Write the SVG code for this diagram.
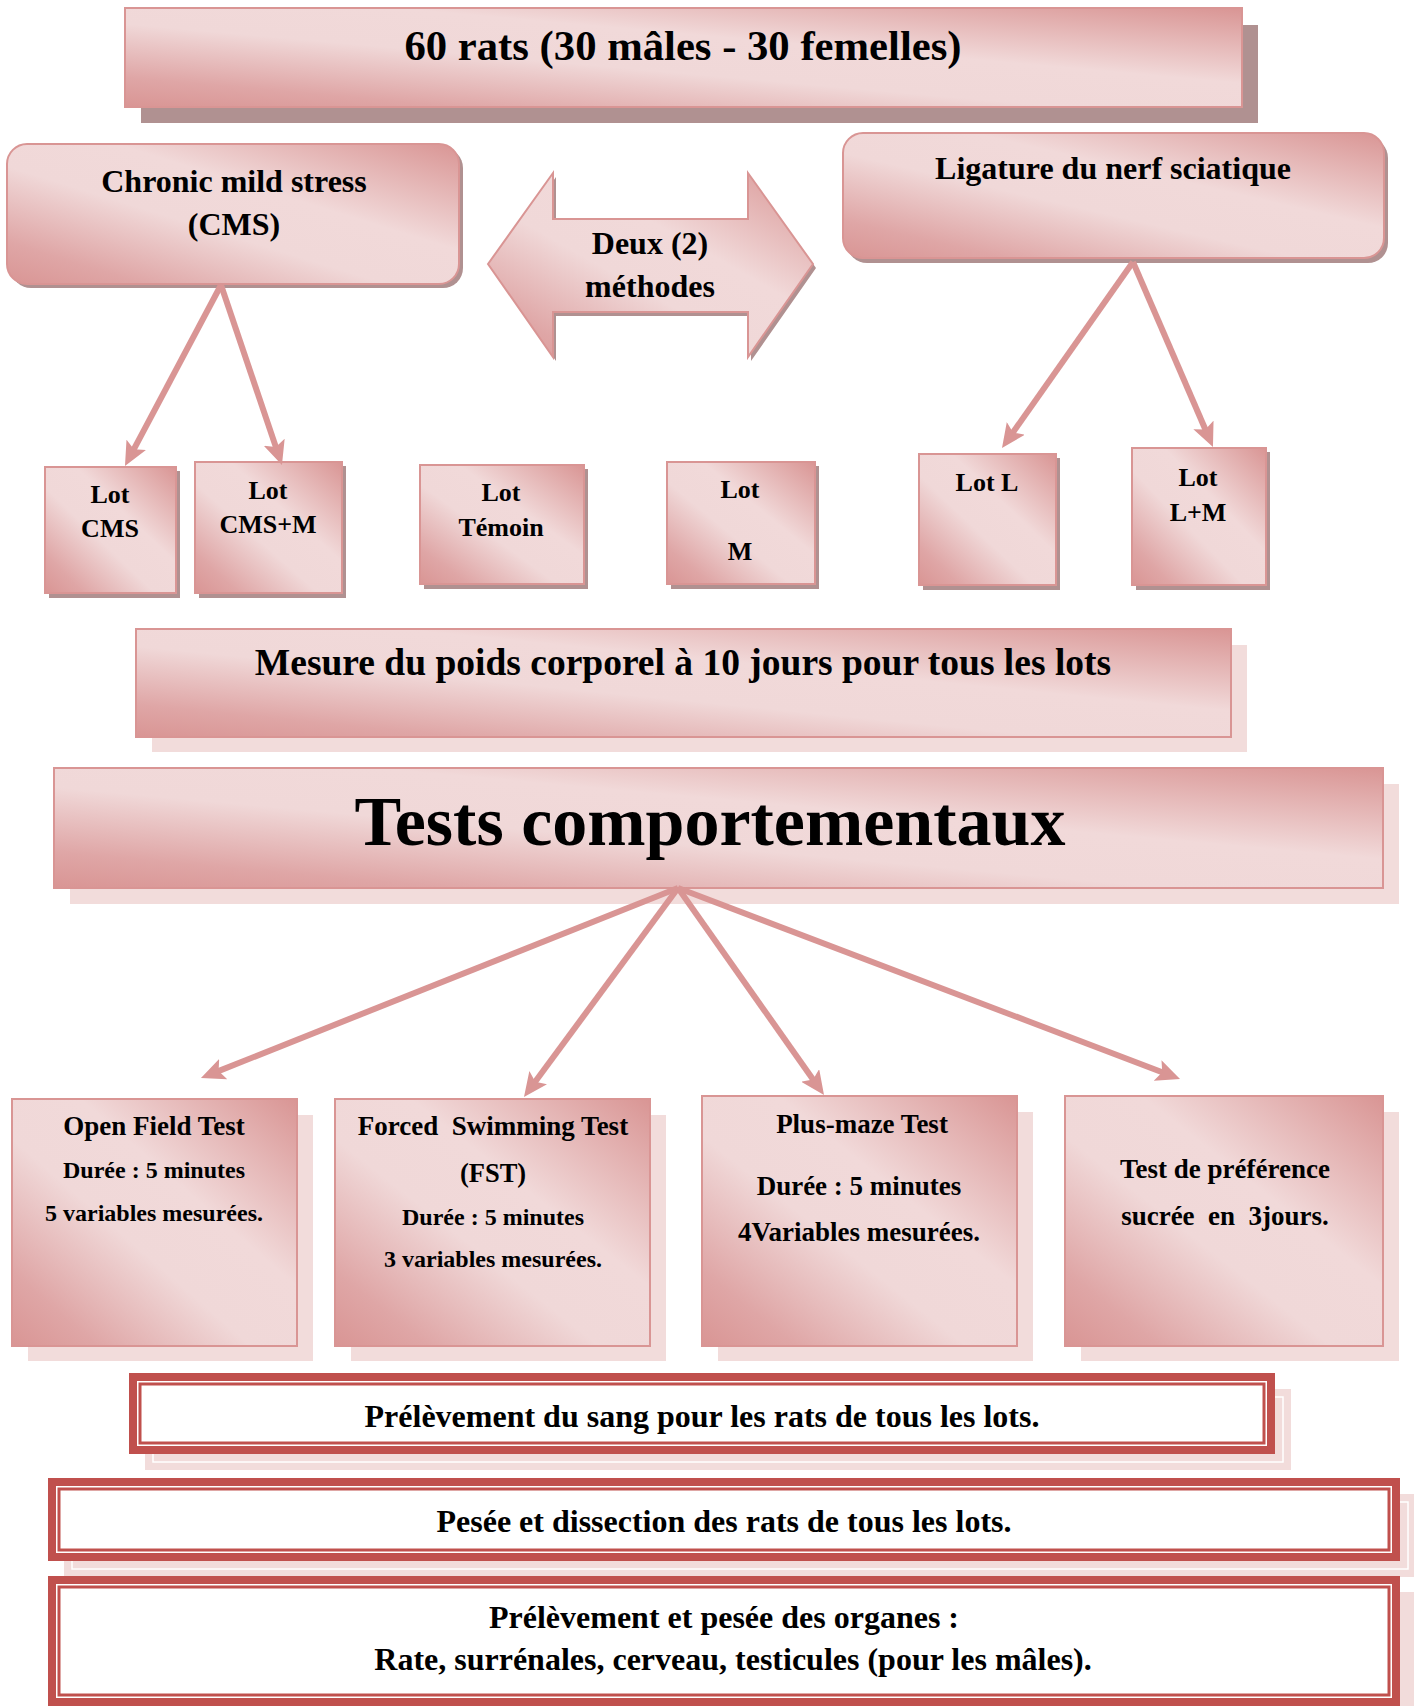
<svg xmlns="http://www.w3.org/2000/svg" width="1414" height="1706" viewBox="0 0 1414 1706">
<defs>
<linearGradient id="pg" x1="1" y1="0" x2="0" y2="1">
<stop offset="0" stop-color="#d99594"/>
<stop offset="0.38" stop-color="#f1d9d9"/>
<stop offset="0.58" stop-color="#f0d8d8"/>
<stop offset="0.85" stop-color="#dfa6a6"/>
<stop offset="1" stop-color="#d99594"/>
</linearGradient>
<marker id="ah" markerUnits="userSpaceOnUse" viewBox="0 0 24 22" markerWidth="24" markerHeight="22" refX="12" refY="11" orient="auto">
<path d="M0,0 L24,11 L0,22 L5,11 z" fill="#d99594"/>
</marker>
<style>
.box{fill:url(#pg);stroke:#d99594;stroke-width:2}
.gsh{fill:#b09191}
.psh{fill:#f2dcdb}
.t{font-family:"Liberation Serif","Times New Roman",serif;font-weight:bold;fill:#000;text-anchor:middle}
.con{stroke:#d99594;stroke-width:6;fill:none;marker-end:url(#ah)}
.rb{fill:#c0504d}
.rin{fill:#fff}
</style>
</defs>
<rect width="1414" height="1706" fill="#fff"/>

<g id="top">
<rect class="gsh" x="141" y="25" width="1117" height="98"/>
<rect class="box" x="125" y="8" width="1117" height="99"/>
<text class="t" x="683" y="60" font-size="42.7">60 rats (30 mâles - 30 femelles)</text>
</g>

<g id="cms">
<rect class="gsh" x="11" y="148" width="452" height="140" rx="20"/>
<rect class="box" x="7" y="144" width="452" height="140" rx="20"/>
<text class="t" x="234" y="192" font-size="32">Chronic mild stress</text>
<text class="t" x="234" y="235" font-size="32">(CMS)</text>
</g>

<g id="deux">
<polygon class="gsh" points="491,268 556,177 556,223 751,223 751,177 816,268 751,361 751,316 556,316 556,361"/>
<polygon class="box" points="488,264 553,173 553,219 748,219 748,173 813,264 748,357 748,312 553,312 553,357"/>
<text class="t" x="650" y="254" font-size="32">Deux (2)</text>
<text class="t" x="650" y="297" font-size="32">méthodes</text>
</g>

<g id="ligature">
<rect class="gsh" x="847" y="138" width="541" height="125" rx="20"/>
<rect class="box" x="843" y="133" width="541" height="125" rx="20"/>
<text class="t" x="1113" y="179" font-size="32">Ligature du nerf sciatique</text>
</g>

<g id="lot-cms">
<rect class="gsh" x="49" y="471" width="131" height="127"/>
<rect class="box" x="45" y="467" width="131" height="126"/>
<text class="t" x="110" y="503" font-size="26">Lot</text>
<text class="t" x="110" y="537" font-size="26">CMS</text>
</g>
<g id="lot-cmsm">
<rect class="gsh" x="199" y="466" width="147" height="132"/>
<rect class="box" x="195" y="462" width="147" height="131"/>
<text class="t" x="268" y="499" font-size="26">Lot</text>
<text class="t" x="268" y="533" font-size="26">CMS+M</text>
</g>
<g id="lot-temoin">
<rect class="gsh" x="424" y="469" width="164" height="120"/>
<rect class="box" x="420" y="465" width="164" height="119"/>
<text class="t" x="501" y="501" font-size="26">Lot</text>
<text class="t" x="501" y="536" font-size="26">Témoin</text>
</g>
<g id="lot-m">
<rect class="gsh" x="671" y="466" width="148" height="123"/>
<rect class="box" x="667" y="462" width="148" height="122"/>
<text class="t" x="740" y="498" font-size="26">Lot</text>
<text class="t" x="740" y="560" font-size="26">M</text>
</g>
<g id="lot-l">
<rect class="gsh" x="923" y="458" width="137" height="132"/>
<rect class="box" x="919" y="454" width="137" height="131"/>
<text class="t" x="987" y="491" font-size="26">Lot L</text>
</g>
<g id="lot-lm">
<rect class="gsh" x="1136" y="452" width="134" height="138"/>
<rect class="box" x="1132" y="448" width="134" height="137"/>
<text class="t" x="1198" y="486" font-size="26">Lot</text>
<text class="t" x="1198" y="521" font-size="26">L+M</text>
</g>

<g id="mesure">
<rect class="psh" x="152" y="645" width="1095" height="107"/>
<rect class="box" x="136" y="629" width="1095" height="108"/>
<text class="t" x="683" y="675" font-size="37.5">Mesure du poids corporel à 10 jours pour tous les lots</text>
</g>

<g id="tests">
<rect class="psh" x="70" y="784" width="1329" height="120"/>
<rect class="box" x="54" y="768" width="1329" height="120"/>
<text class="t" x="710" y="845" font-size="70">Tests comportementaux</text>
</g>

<g id="open-field">
<rect class="psh" x="28" y="1115" width="285" height="246"/>
<rect class="box" x="12" y="1099" width="285" height="247"/>
<text class="t" x="154" y="1135" font-size="27">Open Field Test</text>
<text class="t" x="154" y="1178" font-size="24">Durée : 5 minutes</text>
<text class="t" x="154" y="1221" font-size="24">5 variables mesurées.</text>
</g>
<g id="fst">
<rect class="psh" x="351" y="1115" width="315" height="246"/>
<rect class="box" x="335" y="1099" width="315" height="247"/>
<text class="t" x="493" y="1135" font-size="27">Forced&#160; Swimming Test</text>
<text class="t" x="493" y="1182" font-size="26.5">(FST)</text>
<text class="t" x="493" y="1225" font-size="24">Durée : 5 minutes</text>
<text class="t" x="493" y="1267" font-size="24">3 variables mesurées.</text>
</g>
<g id="plus-maze">
<rect class="psh" x="718" y="1112" width="315" height="249"/>
<rect class="box" x="702" y="1096" width="315" height="250"/>
<text class="t" x="862" y="1133" font-size="27">Plus-maze Test</text>
<text class="t" x="859" y="1195" font-size="27">Durée : 5 minutes</text>
<text class="t" x="859" y="1241" font-size="27">4Variables mesurées.</text>
</g>
<g id="preference">
<rect class="psh" x="1081" y="1112" width="318" height="249"/>
<rect class="box" x="1065" y="1096" width="318" height="250"/>
<text class="t" x="1225" y="1178" font-size="27">Test de préférence</text>
<text class="t" x="1225" y="1225" font-size="27">sucrée&#160; en&#160; 3jours.</text>
</g>

<g id="sang">
<rect class="psh" x="145" y="1389" width="1146" height="81"/>
<rect x="153" y="1397" width="1130" height="65" fill="none" stroke="#fff" stroke-width="1.5"/>
<rect class="rb" x="129" y="1373" width="1146" height="81"/>
<rect class="rin" x="137" y="1381" width="1130" height="65"/>
<rect x="140" y="1384" width="1124" height="59" fill="none" stroke="#c0504d" stroke-width="3"/>
<text class="t" x="702" y="1427" font-size="32">Prélèvement du sang pour les rats de tous les lots.</text>
</g>

<g id="pesee">
<rect class="psh" x="64" y="1494" width="1352" height="83"/>
<rect x="72" y="1502" width="1336" height="67" fill="none" stroke="#fff" stroke-width="1.5"/>
<rect class="rb" x="48" y="1478" width="1352" height="83"/>
<rect class="rin" x="56" y="1486" width="1336" height="67"/>
<rect x="59" y="1489" width="1330" height="61" fill="none" stroke="#c0504d" stroke-width="3"/>
<text class="t" x="724" y="1532" font-size="32">Pesée et dissection des rats de tous les lots.</text>
</g>

<g id="organes">
<rect class="psh" x="64" y="1592" width="1352" height="140"/>
<rect class="rb" x="48" y="1576" width="1352" height="140"/>
<rect class="rin" x="56" y="1584" width="1336" height="114"/>
<rect x="59" y="1587" width="1330" height="108" fill="none" stroke="#c0504d" stroke-width="3"/>
<text class="t" x="724" y="1628" font-size="32">Prélèvement et pesée des organes :</text>
<text class="t" x="733" y="1670" font-size="32">Rate, surrénales, cerveau, testicules (pour les mâles).</text>
</g>

<g id="connectors">
<line class="con" x1="221" y1="285" x2="130.6" y2="455.4"/>
<line class="con" x1="221" y1="285" x2="278.1" y2="453.6"/>
<line class="con" x1="1133" y1="262" x2="1008.9" y2="438.2"/>
<line class="con" x1="1133" y1="262" x2="1208.2" y2="436"/>
<line class="con" x1="678" y1="888" x2="212.1" y2="1073.6"/>
<line class="con" x1="678" y1="888" x2="531.1" y2="1087.3"/>
<line class="con" x1="678" y1="888" x2="817.1" y2="1085.2"/>
<line class="con" x1="678" y1="888" x2="1168.8" y2="1074.7"/>
</g>
</svg>
